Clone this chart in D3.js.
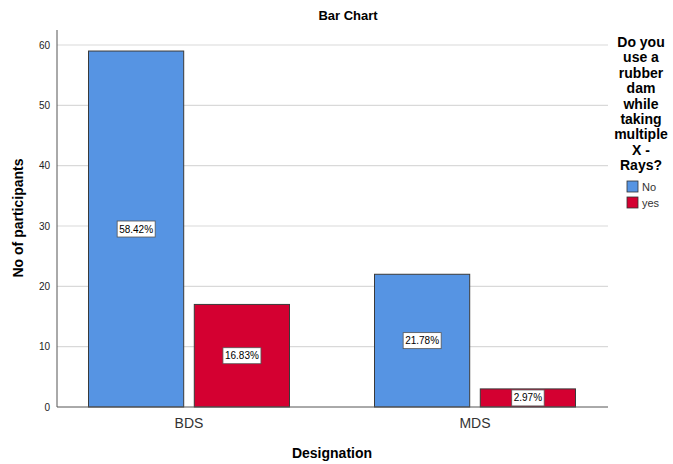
<!DOCTYPE html>
<html><head><meta charset="utf-8">
<script src="https://cdn.jsdelivr.net/npm/d3@7"></script>
<style>body{margin:0;background:#fff;font-family:"Liberation Sans",Arial,sans-serif;}</style>
</head><body><svg id="c" width="673" height="464"></svg>
<script>
const categories = ["BDS", "MDS"];
const series = ["No", "yes"];
const noValues = [59, 22];
const yesValues = [17, 3];
const noPct = ["58.42%", "21.78%"];
const yesPct = ["16.83%", "2.97%"];
const yTicks = [0, 10, 20, 30, 40, 50, 60];
const colors = ["#5694e3", "#d40031"];
const legendTitle = ["Do you", "use a", "rubber", "dam", "while", "taking", "multiple", "X -", "Rays?"];

const data = categories.map((c, i) => ({
  cat: c,
  vals: [{s: series[0], v: noValues[i], p: noPct[i]}, {s: series[1], v: yesValues[i], p: yesPct[i]}]
}));

const svg = d3.select("#c");
const pLeft = 57, pRight = 608, pTop = 30, pBottom = 407;
const y = d3.scaleLinear().domain([0, 60]).range([pBottom, 45]);
const x0 = d3.scaleBand().domain(categories).range([46, 618]).padding(0);
const groupW = 201;
const x1 = d3.scaleBand().domain(series).range([0, groupW]).paddingInner(0.1);
const color = d3.scaleOrdinal().domain(series).range(colors);

// gridlines
svg.append("g").selectAll("line").data(yTicks.filter(d => d > 0)).join("line")
  .attr("x1", pLeft).attr("x2", pRight).attr("y1", d => y(d)).attr("y2", d => y(d))
  .attr("stroke", "#d9d9d9").attr("stroke-width", 1.2);

// y axis
const yAxis = d3.axisLeft(y).tickValues(yTicks).tickSize(0).tickPadding(7);
const gy = svg.append("g").attr("transform", `translate(${pLeft},0)`).call(yAxis);
gy.select(".domain").remove();
gy.selectAll("text").attr("font-size", 10).attr("fill", "#222").attr("font-family", "Liberation Sans, Arial, sans-serif");
svg.append("line").attr("x1", pLeft).attr("x2", pLeft).attr("y1", pTop).attr("y2", pBottom).attr("stroke", "#555");

// bars
const groups = svg.append("g").selectAll("g").data(data).join("g")
  .attr("transform", d => `translate(${x0(d.cat) + (x0.bandwidth() - groupW) / 2},0)`);
groups.selectAll("rect").data(d => d.vals).join("rect")
  .attr("x", d => x1(d.s)).attr("width", x1.bandwidth())
  .attr("y", d => y(d.v)).attr("height", d => pBottom - y(d.v))
  .attr("fill", d => color(d.s)).attr("stroke", "#3a3a3a").attr("stroke-width", 1);

// labels
groups.each(function(d) {
  const g = d3.select(this);
  d.vals.forEach(v => {
    const cx = x1(v.s) + x1.bandwidth() / 2;
    const cy = (y(v.v) + pBottom) / 2;
    const t = g.append("text").attr("x", cx).attr("y", cy + 3.5).attr("text-anchor", "middle")
      .attr("font-size", 10).attr("fill", "#000").text(v.p);
    const bb = t.node().getBBox();
    g.insert("rect", () => t.node()).attr("x", bb.x - 2).attr("y", cy - 8).attr("width", bb.width + 4).attr("height", 16)
      .attr("fill", "#fff").attr("stroke", "#555").attr("stroke-width", 0.8);
  });
});

// x axis
svg.append("line").attr("x1", pLeft).attr("x2", pRight).attr("y1", pBottom).attr("y2", pBottom).attr("stroke", "#555");
svg.append("g").selectAll("text").data(categories).join("text")
  .attr("x", d => x0(d) + x0.bandwidth() / 2).attr("y", 428).attr("text-anchor", "middle")
  .attr("font-size", 14).attr("fill", "#333").text(d => d);

// titles
svg.append("text").attr("x", 348).attr("y", 20).attr("text-anchor", "middle").attr("font-size", 13)
  .attr("font-weight", "bold").text("Bar Chart");
svg.append("text").attr("x", 332).attr("y", 458).attr("text-anchor", "middle").attr("font-size", 14)
  .attr("font-weight", "bold").text("Designation");
svg.append("text").attr("transform", "translate(23,218) rotate(-90)").attr("text-anchor", "middle")
  .attr("font-size", 14).attr("font-weight", "bold").text("No of participants");

// legend
svg.append("g").selectAll("text").data(legendTitle).join("text")
  .attr("x", 641).attr("y", (d, i) => 47 + i * 15.4).attr("text-anchor", "middle")
  .attr("font-size", 14).attr("font-weight", "bold").text(d => d);
const lg = svg.append("g").selectAll("g").data(series).join("g")
  .attr("transform", (d, i) => `translate(627,${181 + i * 16})`);
lg.append("rect").attr("width", 11).attr("height", 11).attr("fill", d => color(d)).attr("stroke", "#333").attr("stroke-width", 0.8);
lg.append("text").attr("x", 15).attr("y", 10).attr("font-size", 11).attr("fill", "#333").text(d => d);
</script></body></html>
